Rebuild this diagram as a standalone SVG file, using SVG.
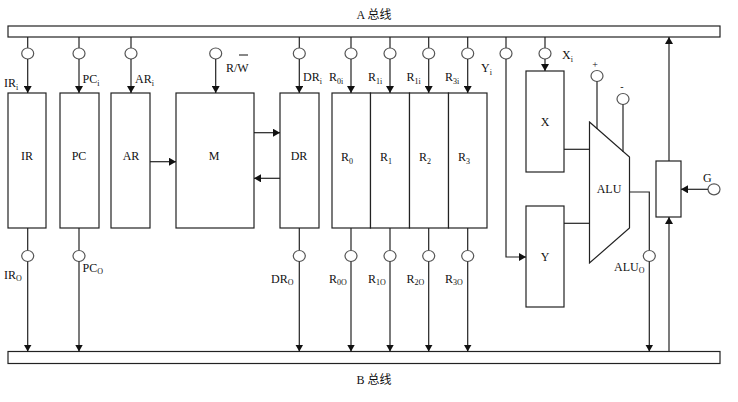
<svg xmlns="http://www.w3.org/2000/svg" width="738" height="402" viewBox="0 0 738 402">
<defs>
<marker id="ah" markerUnits="userSpaceOnUse" markerWidth="8" markerHeight="8" refX="7" refY="4" orient="auto">
<path d="M0,0 L7,4 L0,8 z" fill="#111"/>
</marker>
<style>
.bx{fill:#fff;stroke:#222;stroke-width:1.2}
.ln{fill:none;stroke:#222;stroke-width:1.2}
.ar{fill:none;stroke:#222;stroke-width:1.2;marker-end:url(#ah)}
.ci{fill:#fff;stroke:#555;stroke-width:1.2}
text{font-family:"Liberation Serif","Noto Sans CJK SC",serif;font-size:12px;fill:#111}
.c{text-anchor:middle}
.s{font-size:8px}
.bus{font-family:"Liberation Serif","Noto Sans CJK SC",serif}
</style>
</defs>
<g id="busA"><rect class="bx" x="8" y="26" width="712" height="11"/><text class="c" x="374" y="19">A 总线</text></g>
<g id="busB"><rect class="bx" x="8" y="351.5" width="712" height="12"/><text class="c" x="374" y="384">B 总线</text></g>

<g id="IR"><rect class="bx" x="8" y="93" width="38" height="135"/><text class="c" x="27" y="160">IR</text></g>
<g id="PC"><rect class="bx" x="60" y="93" width="39" height="135"/><text class="c" x="79" y="160">PC</text></g>
<g id="AR"><rect class="bx" x="111" y="93" width="39" height="135"/><text class="c" x="131" y="160">AR</text></g>
<g id="M"><rect class="bx" x="176" y="93" width="78" height="135"/><text class="c" x="214" y="160">M</text></g>
<g id="DR"><rect class="bx" x="280" y="93" width="39" height="135"/><text class="c" x="299" y="160">DR</text></g>
<g id="R0"><rect class="bx" x="332" y="93" width="38.5" height="135"/><text x="341" y="161">R<tspan class="s" dy="3">0</tspan></text></g>
<g id="R1"><rect class="bx" x="370.5" y="93" width="39" height="135"/><text x="380" y="161">R<tspan class="s" dy="3">1</tspan></text></g>
<g id="R2"><rect class="bx" x="409.5" y="93" width="39" height="135"/><text x="419" y="161">R<tspan class="s" dy="3">2</tspan></text></g>
<g id="R3"><rect class="bx" x="448.5" y="93" width="38.5" height="135"/><text x="458" y="161">R<tspan class="s" dy="3">3</tspan></text></g>
<g id="X"><rect class="bx" x="526" y="71" width="38" height="101"/><text class="c" x="545" y="126">X</text></g>
<g id="Y"><rect class="bx" x="526" y="206" width="38" height="101"/><text class="c" x="545" y="261">Y</text></g>
<g id="ALU"><path class="bx" d="M589.5,122 L629.5,157 L629.5,228 L589.5,263 Z" stroke="#555"/><text class="c" x="609" y="193">ALU</text></g>
<g id="Gbox"><rect class="bx" x="656" y="161" width="25" height="56"/></g>

<g id="connectors">
<!-- inputs from A bus -->
<line class="ln" x1="27.7" y1="37" x2="27.7" y2="48"/><ellipse class="ci" cx="27.7" cy="53.5" rx="6" ry="5.5"/><line class="ar" x1="27.7" y1="59" x2="27.7" y2="93"/>
<line class="ln" x1="79" y1="37" x2="79" y2="48"/><ellipse class="ci" cx="79" cy="53.5" rx="6" ry="5.5"/><line class="ar" x1="79" y1="59" x2="79" y2="93"/>
<line class="ln" x1="131" y1="37" x2="131" y2="48"/><ellipse class="ci" cx="131" cy="53.5" rx="6" ry="5.5"/><line class="ar" x1="131" y1="59" x2="131" y2="93"/>
<ellipse class="ci" cx="215.7" cy="53.5" rx="6" ry="5.5"/><line class="ar" x1="215.7" y1="59" x2="215.7" y2="93"/>
<line class="ln" x1="299.3" y1="37" x2="299.3" y2="48"/><ellipse class="ci" cx="299.3" cy="53.5" rx="6" ry="5.5"/><line class="ar" x1="299.3" y1="59" x2="299.3" y2="93"/>
<line class="ln" x1="351" y1="37" x2="351" y2="48"/><ellipse class="ci" cx="351" cy="53.5" rx="6" ry="5.5"/><line class="ar" x1="351" y1="59" x2="351" y2="93"/>
<line class="ln" x1="390" y1="37" x2="390" y2="48"/><ellipse class="ci" cx="390" cy="53.5" rx="6" ry="5.5"/><line class="ar" x1="390" y1="59" x2="390" y2="93"/>
<line class="ln" x1="428.7" y1="37" x2="428.7" y2="48"/><ellipse class="ci" cx="428.7" cy="53.5" rx="6" ry="5.5"/><line class="ar" x1="428.7" y1="59" x2="428.7" y2="93"/>
<line class="ln" x1="467.7" y1="37" x2="467.7" y2="48"/><ellipse class="ci" cx="467.7" cy="53.5" rx="6" ry="5.5"/><line class="ar" x1="467.7" y1="59" x2="467.7" y2="93"/>
<line class="ln" x1="506" y1="37" x2="506" y2="48"/><ellipse class="ci" cx="506" cy="53.5" rx="6" ry="5.5"/><polyline class="ar" points="506,59 506,257 526,257"/>
<line class="ln" x1="545" y1="37" x2="545" y2="48"/><ellipse class="ci" cx="545" cy="53.5" rx="6" ry="5.5"/><line class="ar" x1="545" y1="59" x2="545" y2="71"/>
<!-- internal -->
<line class="ar" x1="150" y1="161.7" x2="176" y2="161.7"/>
<line class="ar" x1="254" y1="132.7" x2="280" y2="132.7"/>
<line class="ar" x1="280" y1="178.3" x2="254" y2="178.3"/>
<line class="ln" x1="564" y1="149.3" x2="589.5" y2="149.3"/>
<line class="ln" x1="564" y1="223.3" x2="589.5" y2="223.3"/>
<ellipse class="ci" cx="597" cy="76" rx="6" ry="5.5"/><line class="ln" x1="597" y1="81.5" x2="597" y2="129"/>
<ellipse class="ci" cx="623" cy="99" rx="6" ry="5.5"/><line class="ln" x1="623" y1="104.5" x2="623" y2="152"/>
<!-- outputs to B bus -->
<line class="ln" x1="27.7" y1="228" x2="27.7" y2="250.5"/><ellipse class="ci" cx="27.7" cy="256" rx="6" ry="5.5"/><line class="ar" x1="27.7" y1="261.5" x2="27.7" y2="351.5"/>
<line class="ln" x1="79" y1="228" x2="79" y2="250.5"/><ellipse class="ci" cx="79" cy="256" rx="6" ry="5.5"/><line class="ar" x1="79" y1="261.5" x2="79" y2="351.5"/>
<line class="ln" x1="299.3" y1="228" x2="299.3" y2="250.5"/><ellipse class="ci" cx="299.3" cy="256" rx="6" ry="5.5"/><line class="ar" x1="299.3" y1="261.5" x2="299.3" y2="351.5"/>
<line class="ln" x1="351" y1="228" x2="351" y2="250.5"/><ellipse class="ci" cx="351" cy="256" rx="6" ry="5.5"/><line class="ar" x1="351" y1="261.5" x2="351" y2="351.5"/>
<line class="ln" x1="390" y1="228" x2="390" y2="250.5"/><ellipse class="ci" cx="390" cy="256" rx="6" ry="5.5"/><line class="ar" x1="390" y1="261.5" x2="390" y2="351.5"/>
<line class="ln" x1="428.7" y1="228" x2="428.7" y2="250.5"/><ellipse class="ci" cx="428.7" cy="256" rx="6" ry="5.5"/><line class="ar" x1="428.7" y1="261.5" x2="428.7" y2="351.5"/>
<line class="ln" x1="467.7" y1="228" x2="467.7" y2="250.5"/><ellipse class="ci" cx="467.7" cy="256" rx="6" ry="5.5"/><line class="ar" x1="467.7" y1="261.5" x2="467.7" y2="351.5"/>
<polyline class="ln" points="629.5,192 649.3,192 649.3,250.5"/><ellipse class="ci" cx="649.3" cy="256" rx="6" ry="5.5"/><line class="ar" x1="649.3" y1="261.5" x2="649.3" y2="351.5"/>
<!-- G -->
<line class="ar" x1="669" y1="351.5" x2="669" y2="217"/>
<line class="ar" x1="669" y1="161" x2="669" y2="37"/>
<ellipse class="ci" cx="714" cy="189.3" rx="6" ry="5.5"/><line class="ar" x1="708" y1="189.3" x2="681" y2="189.3"/>
</g>

<g id="labels">
<text x="4" y="87">IR<tspan class="s" dy="3">i</tspan></text>
<text x="82.5" y="83">PC<tspan class="s" dy="3">i</tspan></text>
<text x="135" y="83">AR<tspan class="s" dy="3">i</tspan></text>
<text x="226" y="72">R/W</text><line x1="239" y1="55" x2="248" y2="55" stroke="#111" stroke-width="1"/>
<text x="303" y="81">DR<tspan class="s" dy="3">i</tspan></text>
<text x="329" y="81">R<tspan class="s" dy="3">0i</tspan></text>
<text x="368" y="81">R<tspan class="s" dy="3">1i</tspan></text>
<text x="406.5" y="81">R<tspan class="s" dy="3">1i</tspan></text>
<text x="445" y="81">R<tspan class="s" dy="3">3i</tspan></text>
<text x="481" y="72">Y<tspan class="s" dy="3">i</tspan></text>
<text x="562" y="59">X<tspan class="s" dy="3">i</tspan></text>
<text class="c" x="595" y="68" style="font-size:10px">+</text>
<text class="c" x="622" y="90" style="font-size:10px">-</text>
<text x="703" y="182">G</text>
<text x="4" y="279">IR<tspan class="s" dy="2">O</tspan></text>
<text x="82.5" y="272">PC<tspan class="s" dy="2">O</tspan></text>
<text x="271" y="283">DR<tspan class="s" dy="2">O</tspan></text>
<text x="329" y="283">R<tspan class="s" dy="2">0O</tspan></text>
<text x="368" y="283">R<tspan class="s" dy="2">1O</tspan></text>
<text x="406.5" y="283">R<tspan class="s" dy="2">2O</tspan></text>
<text x="445" y="283">R<tspan class="s" dy="2">3O</tspan></text>
<text x="614" y="271">ALU<tspan class="s" dy="2">O</tspan></text>
</g>
</svg>
